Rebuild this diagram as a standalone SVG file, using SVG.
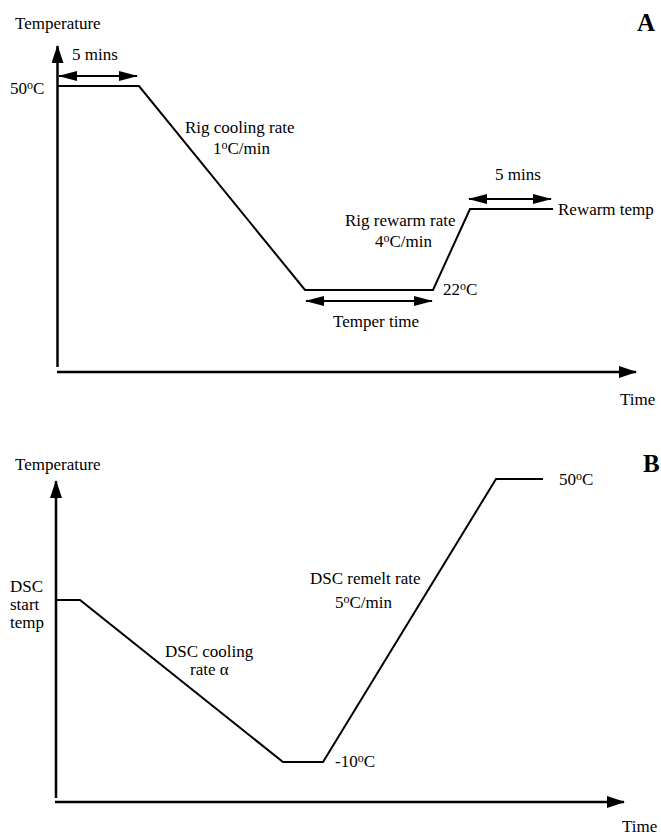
<svg xmlns="http://www.w3.org/2000/svg" width="661" height="835" viewBox="0 0 661 835">
<style>
text{font-family:"Liberation Serif","Times New Roman",serif;font-size:17px;fill:#000}
.bold{font-weight:bold;font-size:25px}
.ln{fill:none;stroke:#000;stroke-width:2;stroke-linejoin:miter}
.ax{stroke:#000;stroke-width:2.5;fill:none}
.dim{stroke:#000;stroke-width:2;fill:none}
.sup{font-size:12px}
</style>
<defs>
<marker id="axh" markerUnits="userSpaceOnUse" markerWidth="18" markerHeight="12" refX="17" refY="6" orient="auto"><path d="M0,0 L18,6 L0,12 z" fill="#000"/></marker>
<marker id="dh" markerUnits="userSpaceOnUse" markerWidth="19" markerHeight="10" refX="18" refY="5" orient="auto-start-reverse"><path d="M0,0 L19,5 L0,10 z" fill="#000"/></marker>
</defs>
<rect width="661" height="835" fill="#fff"/>

<g id="panelA">
  <g id="axesA">
    <line class="ax" x1="57.5" y1="367" x2="57.5" y2="46" marker-end="url(#axh)"/>
    <line class="ax" x1="57" y1="372" x2="636" y2="372" marker-end="url(#axh)"/>
    <text x="15" y="29">Temperature</text>
    <text x="620" y="405">Time</text>
    <text class="bold" x="637" y="31">A</text>
  </g>
  <g id="profileA">
    <polyline class="ln" points="58,86 139,86 305,290 433,290 470,209 553,209"/>
  </g>
  <g id="connectorsA">
    <line class="dim" x1="59" y1="76" x2="137" y2="76" marker-start="url(#dh)" marker-end="url(#dh)"/>
    <line class="dim" x1="306" y1="301" x2="432" y2="301" marker-start="url(#dh)" marker-end="url(#dh)"/>
    <line class="dim" x1="469" y1="199" x2="551" y2="199" marker-start="url(#dh)" marker-end="url(#dh)"/>
  </g>
  <g id="labelsA">
    <text x="72" y="60">5 mins</text>
    <text x="10" y="94">50<tspan class="sup" dy="-5">o</tspan><tspan dy="5">C</tspan></text>
    <text x="185" y="133">Rig cooling rate</text>
    <text x="213" y="154">1<tspan class="sup" dy="-5">o</tspan><tspan dy="5">C/min</tspan></text>
    <text x="345" y="226">Rig rewarm rate</text>
    <text x="375" y="247">4<tspan class="sup" dy="-5">o</tspan><tspan dy="5">C/min</tspan></text>
    <text x="443" y="295">22<tspan class="sup" dy="-5">o</tspan><tspan dy="5">C</tspan></text>
    <text x="333" y="327">Temper time</text>
    <text x="495" y="180">5 mins</text>
    <text x="558" y="215">Rewarm temp</text>
  </g>
</g>

<g id="panelB">
  <g id="axesB">
    <line class="ax" x1="56" y1="798" x2="56" y2="481" marker-end="url(#axh)"/>
    <line class="ax" x1="55" y1="802" x2="624" y2="802" marker-end="url(#axh)"/>
    <text x="15" y="470">Temperature</text>
    <text x="622" y="832">Time</text>
    <text class="bold" x="643" y="472">B</text>
  </g>
  <g id="profileB">
    <polyline class="ln" points="56,600 80,600 283,762 323,762 496,479 543,479"/>
  </g>
  <g id="labelsB">
    <text x="559" y="485">50<tspan class="sup" dy="-5">o</tspan><tspan dy="5">C</tspan></text>
    <text x="10" y="592">DSC</text>
    <text x="10" y="610">start</text>
    <text x="10" y="628">temp</text>
    <text x="165" y="657">DSC cooling</text>
    <text x="190" y="675">rate α</text>
    <text x="310" y="584">DSC remelt rate</text>
    <text x="335" y="608">5<tspan class="sup" dy="-5">o</tspan><tspan dy="5">C/min</tspan></text>
    <text x="335" y="767">-10<tspan class="sup" dy="-5">o</tspan><tspan dy="5">C</tspan></text>
  </g>
</g>
</svg>
